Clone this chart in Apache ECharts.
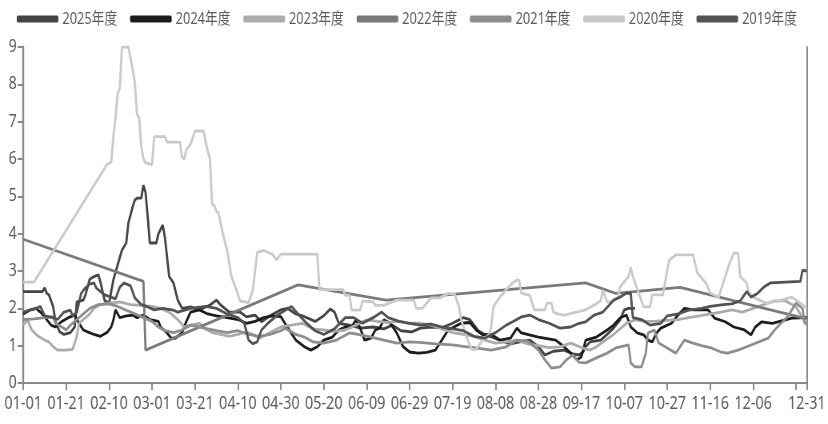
<!DOCTYPE html>
<html><head><meta charset="utf-8">
<script src="https://cdn.jsdelivr.net/npm/echarts@6/dist/echarts.min.js"></script>
<style>html,body{margin:0;padding:0;background:#fff;overflow:hidden}#wrap{width:828px;height:424px;overflow:hidden}#c{width:1035px;height:424px;transform:scaleX(0.8);transform-origin:0 0}</style>
</head><body><div id="wrap"><div id="c"></div></div>
<script>
// categories: one per day of a leap year
const monthLen = [31,29,31,30,31,30,31,31,30,31,30,31];
const categories = [];
monthLen.forEach((n, m) => { for (let d = 1; d <= n; d++) categories.push(String(m+1).padStart(2,'0') + '-' + String(d).padStart(2,'0')); });
const yTicks = [0,1,2,3,4,5,6,7,8,9];
const seriesNames = ['2025年度','2024年度','2023年度','2022年度','2021年度','2020年度','2019年度'];
const colors = ['#444444','#1c1c1c','#ababab','#7a7a7a','#8d8d8d','#c9c9c9','#525252'];

// [day index, value]
const v2025 = [[0,2.45],[9,2.45],[10,2.55],[11,2.4],[12,2.36],[14,2.04],[15,1.64],[17,1.37],[19,1.3],[22,1.35],[24,1.5],[25,2.17],[28,2.22],[29,2.36],[31,2.78],[33,2.85],[35,2.9],[36,2.7],[37,2.44],[38,2.2],[40,2.14],[42,2.76],[44,3.16],[46,3.56],[48,3.75],[49,4.29],[50,4.5],[51,4.72],[52,4.9],[53,4.95],[55,4.95],[56,5.3],[57,5.1],[58,4.45],[59,3.75],[62,3.75],[63,4.0],[65,4.23],[66,3.9],[67,3.38],[68,2.85],[70,2.68],[72,2.22],[74,2.0],[78,2.04],[82,1.96],[87,2.09],[90,2.22],[92,2.09],[96,1.9],[101,1.9],[104,1.77],[108,1.82],[111,1.64],[115,1.8],[120,1.96],[123,2.0],[127,1.85],[130,1.8],[136,1.65],[140,1.8],[143,1.98],[145,1.9],[147,1.6],[152,1.55],[157,1.47],[163,1.5],[168,1.45],[172,1.55],[176,1.4],[181,1.37],[185,1.47],[190,1.5],[195,1.48],[200,1.6],[205,1.75],[208,1.7],[212,1.4],[215,1.3],[222,1.15],[227,1.05],[233,1.12],[236,1.15],[240,0.97],[243,0.75],[247,0.85],[252,0.88],[256,0.78],[259,0.75],[261,0.85],[262,0.97],[264,1.1],[269,1.15],[272,1.3],[275,1.47],[278,1.69],[280,1.96],[282,2.0],[285,2.0]];
const v2024 = [[0,1.85],[3,1.95],[6,2.0],[8,1.9],[10,1.77],[13,1.55],[15,1.5],[18,1.65],[21,1.75],[24,1.82],[26,1.6],[28,1.42],[30,1.37],[33,1.3],[36,1.25],[39,1.35],[41,1.5],[42,1.68],[43,1.96],[45,1.75],[48,1.8],[51,1.82],[53,1.75],[56,1.82],[59,1.7],[63,1.65],[64,1.5],[67,1.34],[69,1.2],[71,1.2],[74,1.35],[76,1.65],[78,1.9],[82,1.96],[86,1.85],[90,1.8],[95,1.75],[100,1.7],[104,1.6],[108,1.65],[112,1.75],[116,1.8],[120,1.78],[123,1.5],[127,1.15],[131,0.97],[134,0.88],[137,0.97],[140,1.15],[144,1.23],[147,1.42],[150,1.5],[153,1.5],[155,1.69],[157,1.47],[159,1.15],[162,1.2],[164,1.42],[166,1.47],[168,1.69],[171,1.6],[174,1.34],[177,0.97],[180,0.83],[184,0.8],[188,0.82],[192,0.88],[195,1.15],[198,1.42],[204,1.6],[208,1.62],[211,1.42],[214,1.29],[218,1.3],[222,1.15],[227,1.2],[230,1.47],[232,1.34],[240,1.23],[248,1.15],[252,0.97],[255,0.8],[258,0.62],[260,0.7],[262,1.15],[267,1.23],[272,1.42],[275,1.55],[278,1.74],[281,1.82],[283,1.5],[286,1.34],[289,1.29],[291,1.15],[293,1.1],[295,1.34],[297,1.47],[302,1.6],[305,1.82],[308,2.0],[312,1.96],[319,1.96],[322,1.74],[327,1.64],[331,1.5],[336,1.42],[339,1.29],[341,1.5],[344,1.64],[349,1.6],[358,1.74],[365,1.75]];
const v2023 = [[0,1.55],[2,1.69],[4,1.42],[7,1.25],[10,1.15],[12,1.1],[14,0.97],[16,0.88],[20,0.88],[23,0.9],[24,1.07],[25,1.25],[26,1.6],[28,1.7],[31,1.85],[33,2.0],[36,2.1],[40,2.14],[45,2.17],[50,2.1],[55,2.08],[60,2.05],[64,2.0],[68,1.9],[72,1.7],[75,1.5],[78,1.55],[82,1.6],[85,1.45],[88,1.35],[92,1.3],[96,1.25],[100,1.3],[104,1.37],[107,1.3],[110,1.2],[115,1.35],[120,1.5],[125,1.55],[130,1.6],[135,1.45],[140,1.42],[145,1.38],[150,1.42],[155,1.55],[160,1.69],[165,1.65],[170,1.62],[175,1.66],[180,1.6],[185,1.6],[190,1.55],[195,1.45],[200,1.35],[205,1.3],[210,1.25],[215,1.15],[220,1.07],[225,1.1],[230,1.15],[235,1.05],[240,1.0],[245,0.95],[250,0.97],[255,1.07],[260,0.95],[264,0.88],[267,0.97],[270,1.1],[275,1.3],[278,1.45],[281,1.6],[285,1.69],[290,1.65],[295,1.66],[300,1.68],[305,1.7],[310,1.75],[315,1.8],[320,1.85],[325,1.9],[330,1.96],[335,1.9],[340,2.0],[345,2.1],[350,2.2],[355,2.2],[360,2.04],[365,1.55]];
const v2022 = [[0,3.85],[56,2.72],[57,0.88],[128,2.63],[169,2.22],[262,2.68],[276,2.4],[306,2.56],[365,1.72]];
const v2021 = [[0,1.7],[5,1.72],[10,1.75],[14,1.77],[15,1.6],[18,1.5],[20,1.42],[22,1.55],[25,1.7],[28,1.85],[31,2.0],[35,2.1],[40,2.12],[44,2.05],[48,1.95],[52,1.85],[56,1.75],[60,1.65],[63,1.5],[66,1.4],[70,1.35],[74,1.42],[78,1.55],[82,1.5],[86,1.45],[90,1.4],[95,1.35],[100,1.4],[105,1.3],[110,1.25],[115,1.3],[120,1.4],[122,1.47],[127,1.3],[131,1.23],[135,1.1],[140,1.07],[146,1.15],[152,1.34],[156,1.3],[162,1.23],[168,1.15],[174,1.07],[180,1.1],[186,1.08],[192,1.05],[200,1.02],[205,0.98],[210,0.95],[218,0.88],[225,0.97],[230,1.15],[235,1.12],[240,0.88],[243,0.62],[246,0.4],[250,0.43],[253,0.62],[256,0.75],[259,0.55],[262,0.54],[268,0.7],[272,0.8],[276,0.94],[282,1.02],[283,0.54],[285,0.43],[288,0.43],[290,0.8],[291,1.34],[294,1.42],[296,1.07],[299,0.97],[304,0.8],[308,1.15],[312,1.07],[316,1.0],[320,0.95],[325,0.83],[328,0.8],[333,0.88],[337,0.97],[347,1.2],[350,1.42],[353,1.6],[356,1.77],[360,2.14],[363,2.0],[364,1.6],[365,1.6]];
const v2020 = [[0,2.7],[5,2.7],[39,5.85],[41,5.92],[42,6.6],[43,7.1],[44,7.75],[45,7.9],[46,9.0],[49,9.0],[50,8.7],[51,8.4],[52,8.05],[53,7.2],[54,7.1],[55,6.35],[56,6.0],[57,5.9],[60,5.85],[61,6.6],[66,6.6],[67,6.45],[73,6.45],[74,6.05],[75,6.0],[76,6.25],[78,6.4],[80,6.75],[84,6.75],[85,6.45],[86,6.2],[87,6.0],[88,4.8],[89,4.75],[90,4.6],[91,4.55],[93,4.0],[95,3.55],[97,2.85],[99,2.55],[101,2.2],[105,2.15],[107,2.5],[109,3.5],[112,3.55],[116,3.45],[118,3.3],[120,3.45],[137,3.45],[138,2.5],[149,2.5],[150,2.35],[152,2.35],[153,1.95],[157,1.95],[158,2.2],[163,2.17],[164,2.08],[168,2.08],[174,2.22],[182,2.22],[183,2.0],[186,2.0],[188,2.14],[190,2.28],[194,2.28],[198,2.4],[201,2.38],[203,2.04],[204,1.7],[207,1.15],[209,0.9],[211,0.9],[214,1.15],[217,1.3],[218,1.5],[219,2.04],[222,2.3],[225,2.5],[228,2.68],[230,2.76],[231,2.76],[232,2.41],[236,2.35],[238,1.96],[243,1.96],[244,2.14],[246,2.14],[247,1.9],[249,1.85],[252,1.82],[262,1.96],[266,2.09],[269,2.2],[270,2.49],[272,2.17],[274,2.17],[277,2.28],[278,2.57],[282,2.85],[283,3.1],[284,2.85],[285,2.68],[289,2.04],[292,2.04],[293,2.36],[298,2.36],[300,3.03],[301,3.3],[303,3.38],[304,3.43],[312,3.43],[314,2.95],[318,2.68],[320,2.41],[324,2.3],[325,2.49],[327,2.85],[329,3.2],[331,3.48],[333,3.48],[334,2.85],[337,2.68],[338,2.41],[340,2.3],[346,2.14],[352,2.2],[358,2.3],[363,2.1],[365,2.0]];
const v2019 = [[0,1.9],[3,1.95],[6,2.0],[8,2.05],[10,1.8],[14,1.75],[16,1.7],[19,1.9],[22,1.95],[23,1.8],[25,1.9],[27,2.4],[29,2.55],[31,2.65],[33,2.68],[34,2.55],[36,2.45],[38,2.36],[41,2.3],[43,2.25],[45,2.57],[47,2.68],[50,2.6],[52,2.28],[55,2.1],[58,2.04],[61,1.96],[65,2.0],[70,1.95],[72,1.9],[78,2.0],[85,2.05],[90,2.0],[95,1.85],[100,1.75],[103,1.6],[105,1.15],[107,1.05],[109,1.1],[111,1.42],[114,1.6],[118,1.8],[122,1.95],[125,2.05],[128,1.85],[132,1.6],[136,1.4],[140,1.3],[145,1.45],[150,1.75],[154,1.75],[158,1.6],[163,1.75],[167,1.9],[170,1.75],[175,1.65],[180,1.6],[185,1.55],[190,1.58],[195,1.5],[200,1.45],[205,1.4],[210,1.25],[215,1.2],[220,1.35],[225,1.55],[228,1.64],[232,1.77],[236,1.82],[240,1.7],[245,1.6],[250,1.47],[255,1.5],[259,1.6],[262,1.64],[266,1.82],[270,1.9],[273,2.09],[275,2.22],[278,2.3],[281,2.41],[283,2.4],[284,1.75],[288,1.7],[292,1.55],[297,1.6],[300,1.8],[305,1.85],[310,1.95],[316,2.0],[320,2.05],[326,2.1],[330,2.12],[334,2.2],[337,2.45],[339,2.3],[342,2.4],[345,2.57],[348,2.68],[355,2.7],[362,2.72],[363,3.02],[365,3.0]];

const allValues = [v2025, v2024, v2023, v2022, v2021, v2020, v2019];
const FONT = "'Noto Sans','Noto Sans CJK SC',sans-serif";
const TXT = '#5a5a5a';
const AX = '#8a8a8a';
const last = categories.length - 1;

const chart = echarts.init(document.getElementById('c'), null, {renderer: 'canvas'});
chart.setOption({
  animation: false,
  backgroundColor: '#fff',
  color: colors,
  legend: {
    top: 6, left: 16, itemWidth: 52, itemHeight: 7, itemGap: 16,
    icon: 'roundRect',
    textStyle: {fontFamily: FONT, fontSize: 16, color: TXT},
    data: seriesNames
  },
  grid: {left: 29, right: 24, top: 47, bottom: 41, containLabel: false},
  xAxis: {
    type: 'category', data: categories, boundaryGap: false,
    axisLine: {lineStyle: {color: AX, width: 2}},
    axisTick: {length: 7, lineStyle: {color: AX, width: 2}, interval: (i) => i % 20 === 0 || i === last},
    axisLabel: {fontFamily: FONT, fontSize: 18, color: TXT, margin: 12,
      interval: (i) => (i % 20 === 0 && i <= 340) || i === last},
    splitLine: {show: false}
  },
  yAxis: [{
    type: 'value', min: 0, max: 9, interval: 1,
    axisLine: {show: true, lineStyle: {color: AX, width: 2.4}},
    axisTick: {show: true, length: 7, lineStyle: {color: AX, width: 2}},
    axisLabel: {fontFamily: FONT, fontSize: 18, color: TXT, margin: 8,
      formatter: (v) => yTicks.includes(v) ? String(v) : ''},
    splitLine: {show: false}
  }, {
    type: 'value', min: 0, max: 9, interval: 1, position: 'right',
    axisLine: {show: true, lineStyle: {color: AX, width: 2}},
    axisTick: {show: false}, axisLabel: {show: false}, splitLine: {show: false}
  }],
  series: seriesNames.map((n, i) => ({
    name: n, type: 'line', data: allValues[i], showSymbol: false, symbol: 'none',
    lineStyle: {width: 2.8, color: colors[i]}, itemStyle: {color: colors[i]},
    z: 2 + i
  }))
});
</script></body></html>
